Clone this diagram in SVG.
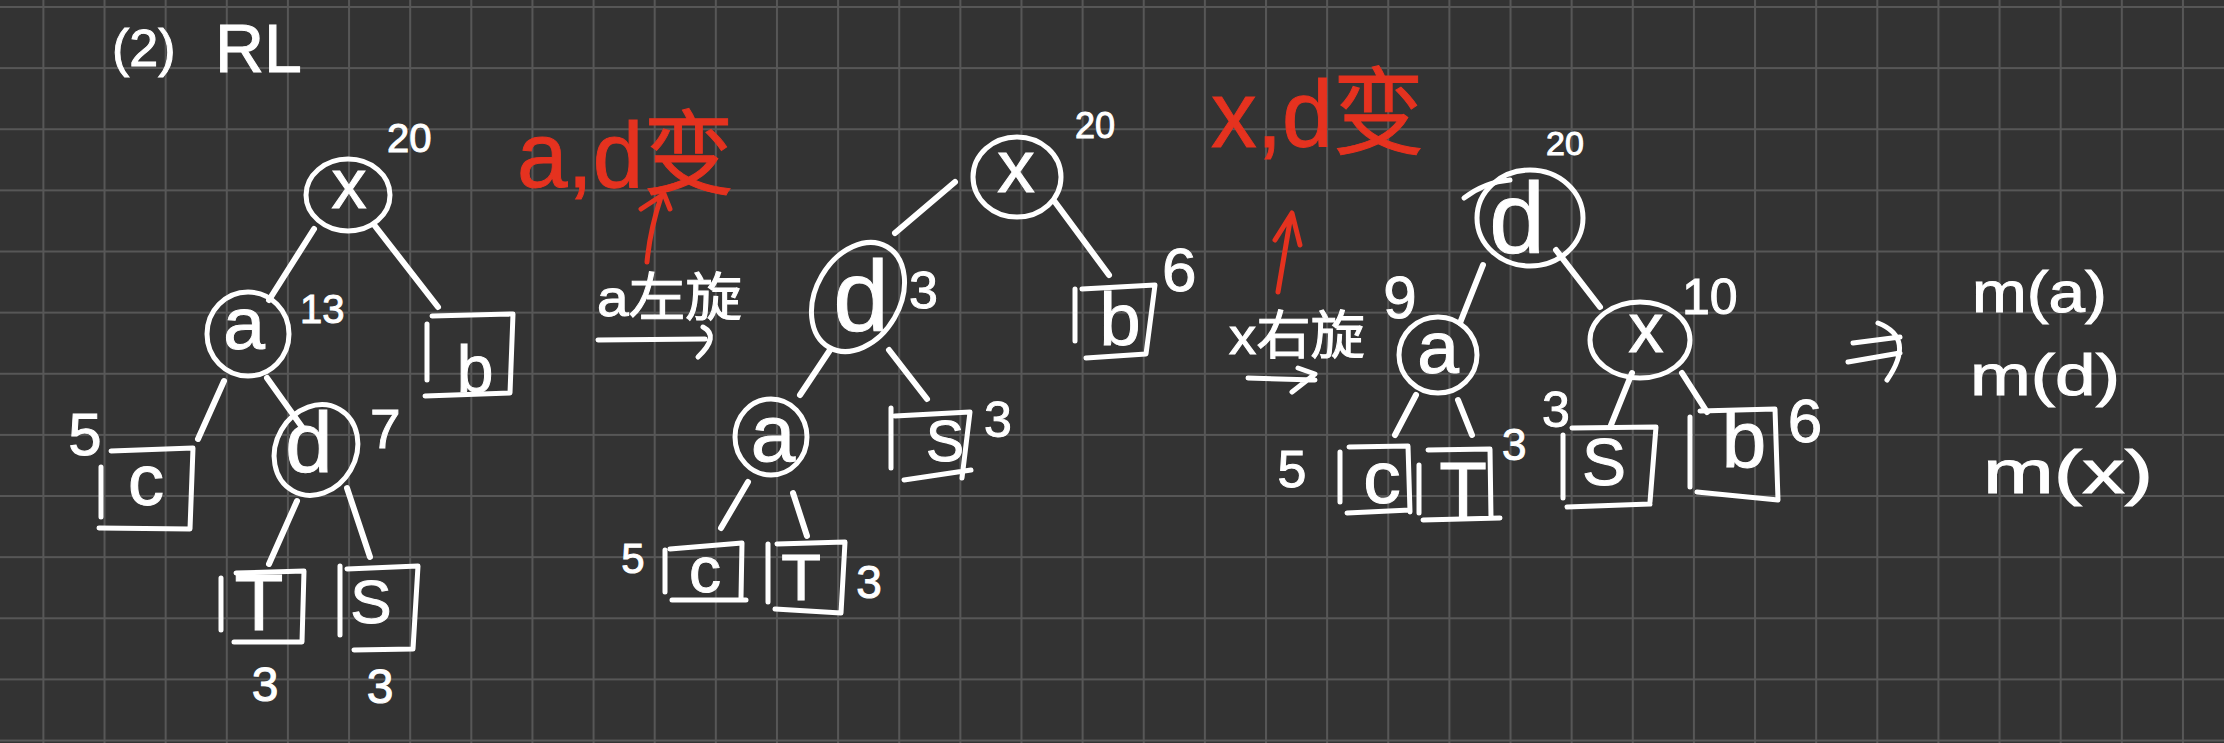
<svg xmlns="http://www.w3.org/2000/svg" width="2224" height="743" viewBox="0 0 2224 743">
<defs>
<pattern id="grid" x="42.4" y="6" width="61.13" height="61.13" patternUnits="userSpaceOnUse">
<path d="M1 0V61.13M0 1H61.13" stroke="#575757" stroke-width="2" fill="none"/>
</pattern>
<style>
.ln{stroke:#fff;stroke-width:6;stroke-linecap:round;stroke-linejoin:round;fill:none}
.sh{stroke:#fff;stroke-width:5;stroke-linecap:round;stroke-linejoin:round;fill:none}
.rd{stroke:#e5321f;stroke-width:5;stroke-linecap:round;stroke-linejoin:round;fill:none}
.t{fill:#fff;stroke:#fff;stroke-width:1;paint-order:stroke;font-family:"Liberation Sans","Noto Sans CJK SC",sans-serif}
.c{text-anchor:middle}
.r{fill:#e5321f;stroke:#e5321f;stroke-width:1;paint-order:stroke;font-family:"Liberation Sans","Noto Sans CJK SC",sans-serif}
</style>
</defs>
<rect width="2224" height="743" fill="#333333"/>
<rect width="2224" height="743" fill="url(#grid)"/>

<text class="t" font-size="52" x="112" y="66">(2)</text>
<text class="t" font-size="68" x="215" y="72">RL</text>

<g id="connectors">
<path class="ln" d="M314 229L269 300M375 226L438 307M224 381L198 439M267 378L302 427M297 501L269 564M347 488L370 557"/>
<path class="ln" d="M955 182L895 233M1055 202L1109 275M830 350L800 395M889 350L927 399M748 482L721 528M793 493L807 536"/>
<path class="ln" d="M1483 265L1460 323M1556 250L1600 307M1416 395L1395 435M1458 400L1472 435M1632 373L1611 425M1682 373L1707 412"/>
<path class="sh" d="M598 340L705 339M703 327Q720 336 698 357"/>
<path class="sh" d="M1248 378L1315 380M1298 368L1315 374L1292 392"/>
<path class="sh" d="M1853 343L1900 337M1848 362L1900 353M1878 323Q1916 338 1887 380"/>
<path class="rd" d="M647 262Q650 230 661 197M641 209L664 194L670 209"/>
<path class="rd" d="M1278 292L1291 215M1275 240L1292 213L1300 245"/>
</g>

<g id="tree1-x"><ellipse class="sh" cx="348" cy="195" rx="42" ry="36"/><text class="t c" font-size="70" x="349" y="208">x</text><text class="t" font-size="40" x="387" y="152">20</text></g>
<g id="tree1-a"><ellipse class="sh" cx="248" cy="334" rx="41" ry="42"/><text class="t c" font-size="75" x="244" y="349">a</text><text class="t" font-size="40" x="300" y="323">13</text></g>
<g id="tree1-b"><path class="sh" d="M427 324L427 380M432 316L513 314L510 393L425 396"/><text class="t c" font-size="66" x="475" y="392">b</text></g>
<g id="tree1-c"><path class="sh" d="M101 467L101 517M111 451L193 448L190 529L99 528"/><text class="t c" font-size="72" x="146" y="505">c</text><text class="t c" font-size="60" x="85" y="455">5</text></g>
<g id="tree1-d"><ellipse class="sh" cx="316" cy="450" rx="40" ry="47" transform="rotate(30 316 450)"/><text class="t c" font-size="85" x="309" y="472">d</text><text class="t" font-size="55" x="370" y="448">7</text></g>
<g id="tree1-T"><path class="sh" d="M221 578L221 630M236 573L304 571L302 642L234 642"/><text class="t c" font-size="80" x="259" y="630">T</text><text class="t c" font-size="48" x="265" y="701">3</text></g>
<g id="tree1-S"><path class="sh" d="M340 566L340 635M347 569L418 566L413 649L354 650"/><text class="t c" font-size="62" x="371" y="623">S</text><text class="t c" font-size="48" x="380" y="703">3</text></g>

<g id="note1"><text class="r" font-size="92" x="517" y="187" textLength="217" lengthAdjust="spacingAndGlyphs">a,d变</text><text class="t" font-size="52" x="597" y="316" textLength="145" lengthAdjust="spacingAndGlyphs">a左旋</text></g>

<g id="tree2-x"><ellipse class="sh" cx="1017" cy="177" rx="44" ry="40"/><text class="t c" font-size="75" x="1016" y="192">x</text><text class="t" font-size="36" x="1075" y="138">20</text></g>
<g id="tree2-d"><ellipse class="sh" cx="858" cy="297" rx="42" ry="58" transform="rotate(30 858 297)"/><text class="t c" font-size="100" x="861" y="331">d</text><text class="t" font-size="52" x="909" y="308">3</text></g>
<g id="tree2-b"><path class="sh" d="M1075 289L1075 341M1082 289L1155 285L1146 354L1086 358"/><text class="t c" font-size="74" x="1120" y="345">b</text><text class="t" font-size="62" x="1162" y="291">6</text></g>
<g id="tree2-a"><ellipse class="sh" cx="771" cy="437" rx="36" ry="38"/><text class="t c" font-size="80" x="773" y="461">a</text></g>
<g id="tree2-S"><path class="sh" d="M891 408L891 468M895 416L970 412L962 478M904 480L971 470"/><text class="t c" font-size="57" x="945" y="461">S</text><text class="t" font-size="50" x="984" y="437">3</text></g>
<g id="tree2-c"><path class="sh" d="M665 550L665 592M670 549L742 543L741 598M672 600L746 600"/><text class="t c" font-size="64" x="705" y="592">c</text><text class="t c" font-size="42" x="633" y="573">5</text></g>
<g id="tree2-T"><path class="sh" d="M768 544L768 602M777 544L845 542L841 613L775 609"/><text class="t c" font-size="65" x="801" y="600">T</text><text class="t c" font-size="46" x="869" y="598">3</text></g>

<g id="note2"><text class="r" font-size="95" x="1211" y="147" textLength="213" lengthAdjust="spacingAndGlyphs">x,d变</text><text class="t" font-size="52" x="1229" y="354" textLength="136" lengthAdjust="spacingAndGlyphs">x右旋</text></g>

<g id="tree3-d"><ellipse class="sh" cx="1530" cy="218" rx="53" ry="48"/><path class="sh" d="M1464 198Q1485 182 1510 180"/><text class="t c" font-size="100" x="1517" y="253">d</text><text class="t" font-size="34" x="1546" y="155">20</text></g>
<g id="tree3-a"><ellipse class="sh" cx="1438" cy="355" rx="39" ry="38"/><text class="t c" font-size="75" x="1438" y="373">a</text><text class="t c" font-size="60" x="1400" y="318">9</text></g>
<g id="tree3-x"><ellipse class="sh" cx="1640" cy="340" rx="50" ry="38"/><text class="t c" font-size="70" x="1646" y="352">x</text><text class="t" font-size="50" x="1682" y="314">10</text></g>
<g id="tree3-c"><path class="sh" d="M1340 452L1340 502M1349 447L1408 446L1410 512M1347 513L1410 510"/><text class="t c" font-size="75" x="1382" y="503">c</text><text class="t c" font-size="52" x="1292" y="487">5</text></g>
<g id="tree3-T"><path class="sh" d="M1419 465L1419 513M1428 450L1490 449L1491 518M1423 520L1500 518"/><text class="t c" font-size="78" x="1463" y="517">T</text><text class="t" font-size="44" x="1502" y="460">3</text></g>
<g id="tree3-S"><path class="sh" d="M1563 435L1563 498M1572 428L1656 427L1650 502M1567 507L1650 504"/><text class="t c" font-size="66" x="1604" y="485">S</text><text class="t c" font-size="50" x="1556" y="427">3</text></g>
<g id="tree3-b"><path class="sh" d="M1690 417L1690 487M1700 411L1775 409L1778 500M1697 492L1778 500"/><text class="t c" font-size="80" x="1744" y="467">b</text><text class="t c" font-size="62" x="1805" y="442">6</text></g>

<g id="result"><text class="t" font-size="58" x="1972" y="312" textLength="135" lengthAdjust="spacingAndGlyphs">m(a)</text><text class="t" font-size="58" x="1970" y="395" textLength="150" lengthAdjust="spacingAndGlyphs">m(d)</text><text class="t" font-size="62" x="1983" y="493" textLength="170" lengthAdjust="spacingAndGlyphs">m(x)</text></g>
</svg>
